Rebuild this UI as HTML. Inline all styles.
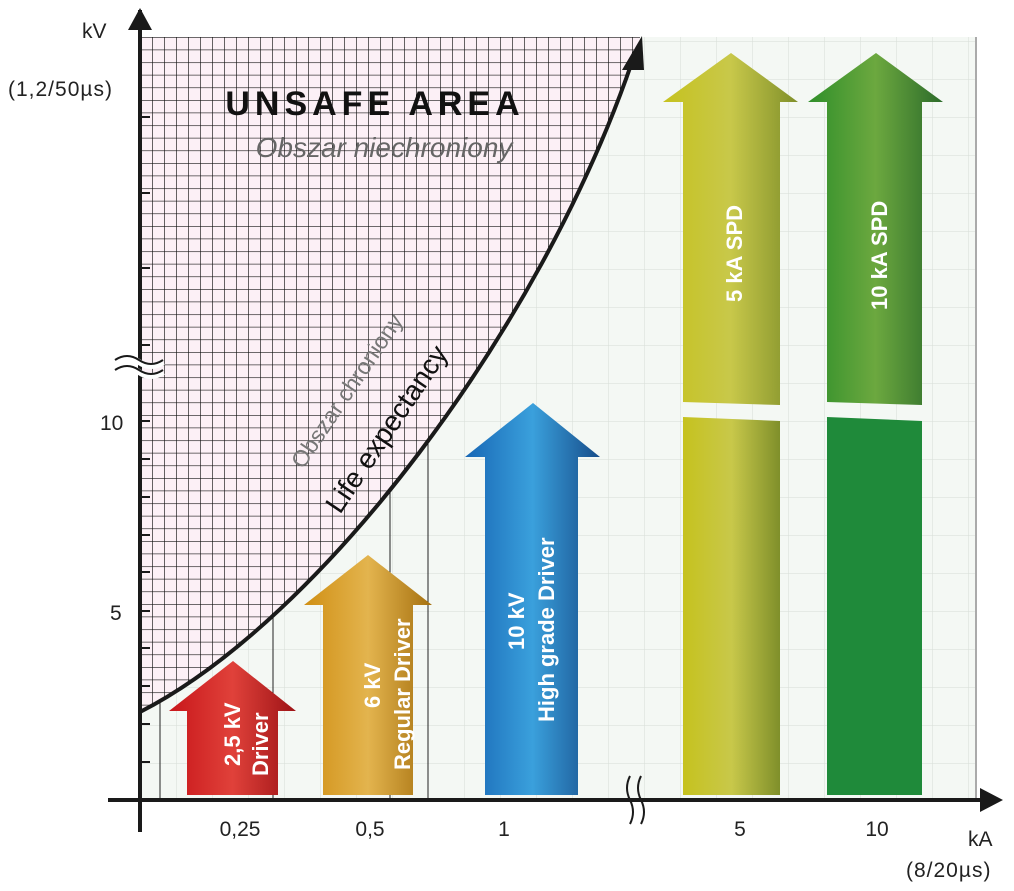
<!DOCTYPE html>
<html><head><meta charset="utf-8"><style>
html,body{margin:0;padding:0;background:#fff;}
svg{display:block;font-family:"Liberation Sans",sans-serif;}
</style></head><body>
<svg width="1014" height="891" viewBox="0 0 1014 891" xmlns="http://www.w3.org/2000/svg">
<defs>
<pattern id="fine" width="36" height="38" patternUnits="userSpaceOnUse" x="140" y="3">
<path d="M0 0H36M0 0V38" stroke="#d6ddd6" stroke-width="1" fill="none"/>
</pattern>
<pattern id="dense" width="12" height="12.6" patternUnits="userSpaceOnUse" x="140" y="37">
<path d="M0 0H12M0 0V12.6" stroke="#111" stroke-width="1.3" fill="none"/>
</pattern>
<clipPath id="unsafe"><path d="M140,712 C320,620 540,330 640,38 L640,37 L140,37 Z"/></clipPath>
<linearGradient id="gr" x1="0" x2="1"><stop offset="0" stop-color="#c8161a"/><stop offset=".5" stop-color="#e0413a"/><stop offset="1" stop-color="#9d1316"/></linearGradient>
<linearGradient id="go" x1="0" x2="1"><stop offset="0" stop-color="#d08f14"/><stop offset=".5" stop-color="#e3b44e"/><stop offset="1" stop-color="#a5700f"/></linearGradient>
<linearGradient id="gb" x1="0" x2="1"><stop offset="0" stop-color="#1867b5"/><stop offset=".5" stop-color="#3aa0dc"/><stop offset="1" stop-color="#174d8a"/></linearGradient>
<linearGradient id="gy" x1="0" x2="1"><stop offset="0" stop-color="#c6c21e"/><stop offset=".5" stop-color="#c8c84a"/><stop offset="1" stop-color="#7f8f2a"/></linearGradient>
<linearGradient id="gg" x1="0" x2="1"><stop offset="0" stop-color="#2f8f2a"/><stop offset=".5" stop-color="#6ca83f"/><stop offset="1" stop-color="#2c6b2a"/></linearGradient>
</defs>
<rect x="140" y="37" width="836" height="763" fill="#f4f8f4"/>
<rect x="140" y="37" width="836" height="763" fill="url(#fine)"/>
<line x1="976" y1="37" x2="976" y2="800" stroke="#aaa" stroke-width="2"/>
<g stroke="#222" stroke-width="1">
<line x1="160" y1="690" x2="160" y2="800"/><line x1="273" y1="600" x2="273" y2="800"/>
<line x1="390" y1="480" x2="390" y2="800"/><line x1="428" y1="420" x2="428" y2="800"/>
</g>
<g clip-path="url(#unsafe)">
<rect x="140" y="37" width="510" height="680" fill="#fcf0f6"/>
<rect x="140" y="37" width="510" height="680" fill="url(#dense)"/>
</g>
<path d="M140,712 C320,620 540,330 632,62" fill="none" stroke="#1a1a1a" stroke-width="4"/>
<polygon points="642,36 622,70 644,70" fill="#1a1a1a"/>
<line x1="140" y1="10" x2="140" y2="832" stroke="#1a1a1a" stroke-width="4"/>
<polygon points="140,8 128,30 152,30" fill="#1a1a1a"/>
<line x1="108" y1="800" x2="985" y2="800" stroke="#1a1a1a" stroke-width="4"/>
<polygon points="1003,800 980,788 980,812" fill="#1a1a1a"/>
<g stroke="#1a1a1a" stroke-width="2">
<line x1="140" y1="117" x2="150" y2="117"/><line x1="140" y1="193" x2="150" y2="193"/><line x1="140" y1="268" x2="150" y2="268"/><line x1="140" y1="345" x2="150" y2="345"/>
<line x1="140" y1="421" x2="150" y2="421"/><line x1="140" y1="459" x2="150" y2="459"/><line x1="140" y1="497" x2="150" y2="497"/><line x1="140" y1="535" x2="150" y2="535"/><line x1="140" y1="572" x2="150" y2="572"/><line x1="140" y1="611" x2="150" y2="611"/><line x1="140" y1="648" x2="150" y2="648"/><line x1="140" y1="686" x2="150" y2="686"/><line x1="140" y1="724" x2="150" y2="724"/><line x1="140" y1="762" x2="150" y2="762"/>
</g>
<path d="M115,362 q12,-8 24,0 t24,0 M115,372 q12,-8 24,0 t24,0" stroke="#fff" stroke-width="6" fill="none"/>
<path d="M115,360 q12,-8 24,0 t24,0 M115,370 q12,-8 24,0 t24,0" stroke="#1a1a1a" stroke-width="2" fill="none"/>
<path d="M630,776 q-6,12 0,24 t0,24 M641,776 q-6,12 0,24 t0,24" stroke="#1a1a1a" stroke-width="2" fill="none"/>
<g fill="#222" font-size="21">
<text x="82" y="38">kV</text>
<text x="8" y="96" letter-spacing="1">(1,2/50µs)</text>
<text x="100" y="430">10</text>
<text x="110" y="620">5</text>
<text x="240" y="836" text-anchor="middle">0,25</text>
<text x="370" y="836" text-anchor="middle">0,5</text>
<text x="504" y="836" text-anchor="middle">1</text>
<text x="740" y="836" text-anchor="middle">5</text>
<text x="877" y="836" text-anchor="middle">10</text>
<text x="968" y="846">kA</text>
<text x="906" y="877" letter-spacing="1">(8/20µs)</text>
</g>
<text x="375" y="115" font-size="34" font-weight="bold" text-anchor="middle" letter-spacing="5" fill="#111">UNSAFE AREA</text>
<text x="384" y="157" font-size="28" font-style="italic" text-anchor="middle" fill="#666">Obszar niechroniony</text>
<text transform="translate(303,470) rotate(-56)" font-size="23" fill="#777">Obszar chroniony</text>
<text transform="translate(340,515) rotate(-56)" font-size="28" fill="#111">Life expectancy</text>
<g>
<polygon points="233,661 296,711 278,711 278,795 187,795 187,711 169,711" fill="url(#gr)"/>
<polygon points="368,555 432,605 413,605 413,795 323,795 323,605 304,605" fill="url(#go)"/>
<polygon points="533,403 600,457 578,457 578,795 485,795 485,457 465,457" fill="url(#gb)"/>
<polygon points="731,53 798,102 780,102 780,405 683,402 683,102 663,102" fill="url(#gy)"/>
<polygon points="683,417 780,421 780,795 683,795" fill="url(#gy)"/>
<polygon points="876,53 943,102 922,102 922,405 827,402 827,102 808,102" fill="url(#gg)"/>
<polygon points="827,417 922,421 922,795 827,795" fill="#1f8a3a"/>
</g>
<g fill="#fff" font-weight="bold" font-size="22">
<text transform="translate(240,766) rotate(-90)">2,5 kV</text>
<text transform="translate(268,776) rotate(-90)">Driver</text>
<text transform="translate(380,708) rotate(-90)">6 kV</text>
<text transform="translate(410,770) rotate(-90)">Regular Driver</text>
<text transform="translate(524,650) rotate(-90)">10 kV</text>
<text transform="translate(554,722) rotate(-90)">High grade Driver</text>
<text transform="translate(742,302) rotate(-90)">5 kA SPD</text>
<text transform="translate(887,310) rotate(-90)">10 kA SPD</text>
</g>
</svg>
</body></html>
